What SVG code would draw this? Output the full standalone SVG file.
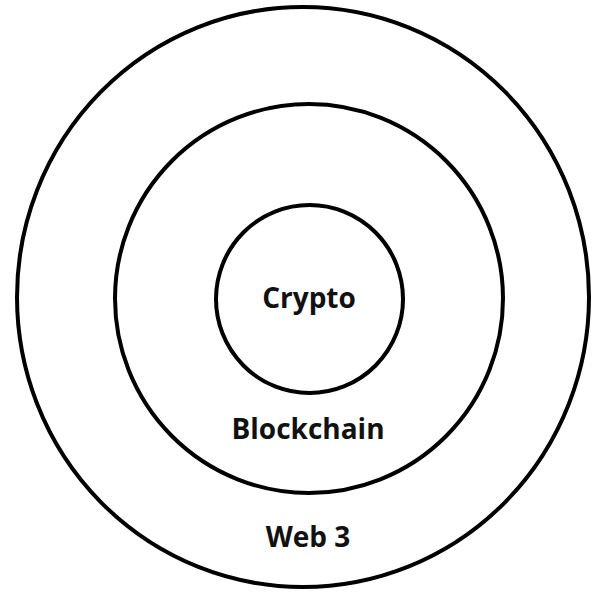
<svg xmlns="http://www.w3.org/2000/svg" width="593" height="593" viewBox="0 0 593 593">
<style>
.ring{fill:none;stroke:#000;stroke-width:4}
.lbl{font-family:"Open Sans","Liberation Sans",sans-serif;font-weight:bold;font-size:28px;fill:#111;text-anchor:middle}
</style>
<rect width="593" height="593" fill="#fff"/>
<g id="web3">
<ellipse class="ring" cx="303" cy="297" rx="286" ry="290"/>
<text class="lbl" x="308" y="547">Web 3</text>
</g>
<g id="blockchain">
<ellipse class="ring" cx="309" cy="298.5" rx="194" ry="194.5"/>
<text class="lbl" x="308" y="439">Blockchain</text>
</g>
<g id="crypto">
<ellipse class="ring" cx="309.5" cy="299" rx="93.5" ry="94"/>
<text class="lbl" x="309" y="308">Crypto</text>
</g>
</svg>
